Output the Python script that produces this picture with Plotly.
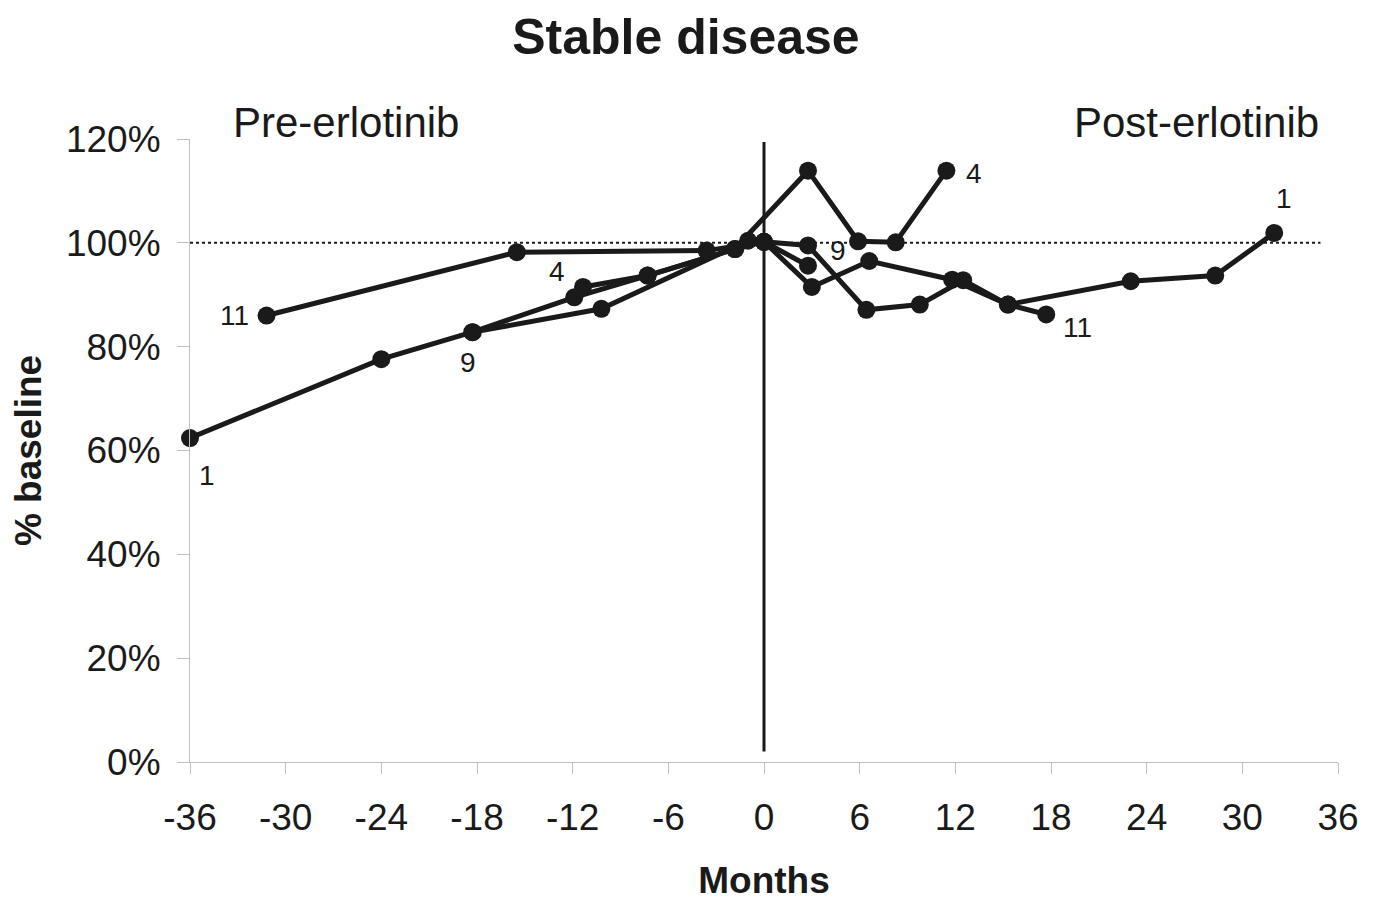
import plotly.graph_objects as go

# Patient series: months relative to erlotinib start, % of baseline
p1_months = [-36, -24, -18.3, -11.9, -7.3, -1.8, 0, 3.0, 6.6, 11.8, 15.3, 23.0, 28.3, 32.0]
p1_pct    = [62.4, 77.6, 82.8, 89.5, 93.7, 98.8, 100.2, 91.5, 96.5, 92.9, 88.1, 92.6, 93.7, 101.9]

p4_months = [-11.35, -7.3, -1.84, 2.76, 5.9, 8.26, 11.44]
p4_pct    = [91.5, 93.7, 98.8, 113.9, 100.3, 100.1, 113.9]

p9_months = [-18.26, -10.2, -1.0, 0, 2.76]
p9_pct    = [82.8, 87.3, 100.4, 100.2, 95.6]

p11_months = [-31.2, -15.5, -3.6, 0, 2.76, 6.42, 9.77, 12.49, 15.3, 17.7]
p11_pct    = [86.0, 98.2, 98.5, 100.2, 99.5, 87.1, 88.1, 92.8, 88.1, 86.2]

x_ticks = [-36, -30, -24, -18, -12, -6, 0, 6, 12, 18, 24, 30, 36]
y_ticks = [0, 20, 40, 60, 80, 100, 120]
baseline = 100
start_month = 0

INK = "#1a1a1a"
AXIS = "#bfbfbf"
FONT = "Liberation Sans, Arial, sans-serif"

fig = go.Figure()
for xs, ys in [(p1_months, p1_pct), (p4_months, p4_pct), (p9_months, p9_pct), (p11_months, p11_pct)]:
    fig.add_trace(go.Scatter(
        x=xs, y=ys, mode="lines+markers",
        line=dict(color=INK, width=5),
        marker=dict(color=INK, size=18),
        cliponaxis=False, showlegend=False, hoverinfo="x+y",
    ))

# baseline dotted line and treatment-start vertical line
fig.add_shape(type="line", xref="x", yref="y", x0=-36, x1=34.9, y0=baseline, y1=baseline,
              line=dict(color=INK, width=2, dash="dot"))
fig.add_shape(type="line", xref="x", yref="y", x0=start_month, x1=start_month, y0=2, y1=119.4,
              line=dict(color=INK, width=3))

# patient labels (anchored to their end points)
labels = [
    ("1", p1_months[0], p1_pct[0], 17, -37),
    ("11", p11_months[0], p11_pct[0], -32, 0),
    ("9", p9_months[0], p9_pct[0], -5, -30),
    ("4", p4_months[0], p4_pct[0], -26, 15),
    ("9", p9_months[-1], p9_pct[-1], 30, 15),
    ("4", p4_months[-1], p4_pct[-1], 28, -3),
    ("11", p11_months[-1], p11_pct[-1], 31, -13),
    ("1", p1_months[-1], p1_pct[-1], 10, 34),
]
for t, x, y, dx, dy in labels:
    fig.add_annotation(text=t, x=x, y=y, xref="x", yref="y", showarrow=False,
                       xshift=dx, yshift=dy, font=dict(size=28, color=INK, family=FONT))

fig.add_annotation(text="Pre-erlotinib", x=0.136, y=1.026, xref="paper", yref="paper",
                   xanchor="center", yanchor="middle",
                   showarrow=False, font=dict(size=42, color=INK, family=FONT))
fig.add_annotation(text="Post-erlotinib", x=0.877, y=1.026, xref="paper", yref="paper",
                   xanchor="center", yanchor="middle",
                   showarrow=False, font=dict(size=42, color=INK, family=FONT))

fig.update_layout(
    width=1378, height=902,
    margin=dict(l=182, r=48, t=131, b=148),
    paper_bgcolor="white", plot_bgcolor="white",
    font=dict(family=FONT, color=INK),
    title=dict(text="<b>Stable disease</b>", x=0.492, xanchor="center",
               y=0.968, yref="container", yanchor="middle",
               font=dict(size=50, color=INK, family=FONT)),
    xaxis=dict(range=[-36, 36], tickvals=x_ticks, ticktext=[str(v) for v in x_ticks],
               showgrid=False, zeroline=False, showline=True, linecolor=AXIS, linewidth=1,
               ticks="outside", ticklen=11, tickcolor=AXIS, ticklabelstandoff=12,
               automargin=False,
               tickfont=dict(size=37, color=INK, family=FONT),
               title=dict(text="<b>Months</b>", font=dict(size=37, color=INK, family=FONT), standoff=29)),
    yaxis=dict(range=[0, 120], tickvals=y_ticks, ticktext=[f"{v}%" for v in y_ticks],
               showgrid=False, zeroline=False, showline=True, linecolor=AXIS, linewidth=1,
               ticks="outside", ticklen=12, tickcolor=AXIS, ticklabelstandoff=9,
               automargin=False,
               tickfont=dict(size=37, color=INK, family=FONT),
               title=dict(text="<b>% baseline</b>", font=dict(size=37, color=INK, family=FONT), standoff=15)),
)

fig.write_html("out.html")
